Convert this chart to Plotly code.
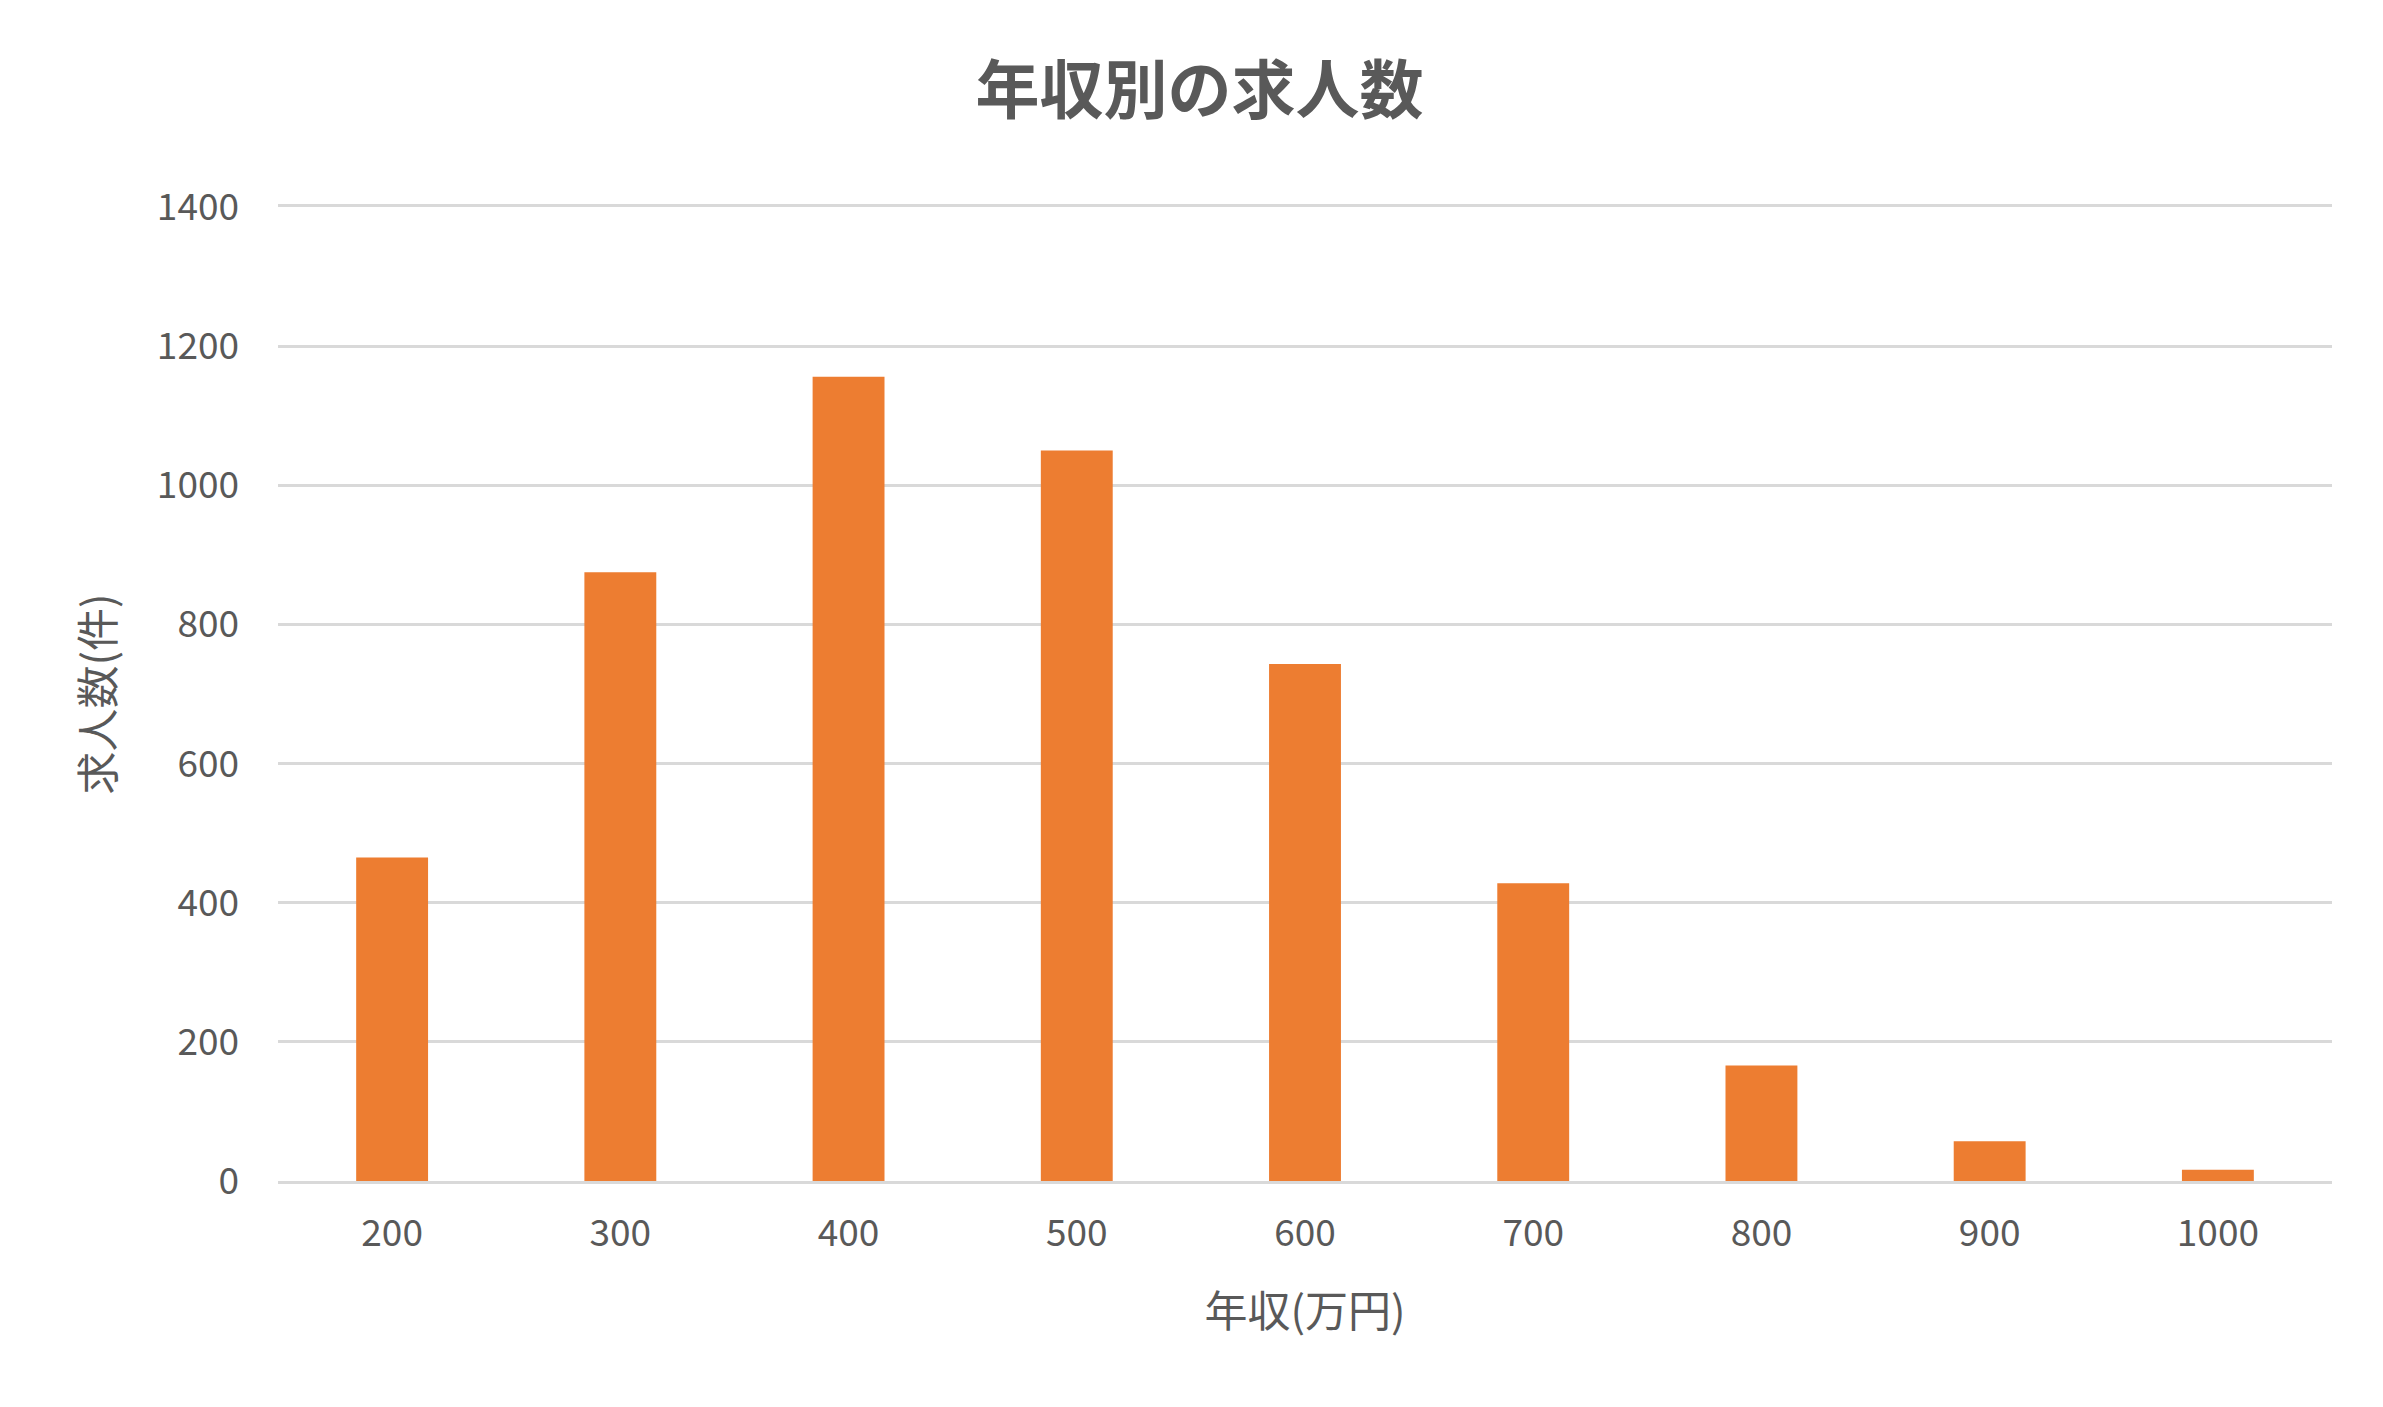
import plotly.graph_objects as go

# 年収(万円) ごとの求人数
salary = ["200", "300", "400", "500", "600", "700", "800", "900", "1000"]
jobs = [465, 875, 1156, 1050, 743, 428, 166, 57, 16]

font_jp = "Noto Sans CJK JP"
text_col = "#595959"
grid_col = "#D9D9D9"

fig = go.Figure()
fig.add_trace(go.Bar(x=salary, y=jobs, marker=dict(color="#ED7D31", line=dict(width=0))))

fig.update_layout(
    width=2383, height=1407,
    margin=dict(l=270, r=59, t=199, b=234),
    paper_bgcolor="white", plot_bgcolor="white",
    font=dict(family=font_jp, color=text_col, size=37),
    title=dict(text="<b>年収別の求人数</b>", x=0.5, xref="container", xanchor="center",
               y=1 - 83 / 1407, yref="container", yanchor="middle",
               font=dict(size=64, color=text_col, family=font_jp)),
    bargap=0.685,
    showlegend=False,
)
# top line stands in for the 1400 gridline
fig.update_xaxes(type="category", showgrid=False, showline=True, mirror=True,
                 linecolor=grid_col, linewidth=2.5,
                 ticks="", ticklabelstandoff=18, tickfont=dict(size=37, color=text_col),
                 title=dict(text="年収(万円)", standoff=41, font=dict(size=43, color=text_col)))
fig.update_yaxes(range=[0, 1400], dtick=200, showgrid=True, gridcolor=grid_col, gridwidth=2.5,
                 zeroline=False, showline=False, ticks="", ticklabelstandoff=38,
                 tickfont=dict(size=37, color=text_col),
                 title=dict(text="求人数(件)", standoff=28, font=dict(size=43, color=text_col)))

fig.write_html("out.html")
